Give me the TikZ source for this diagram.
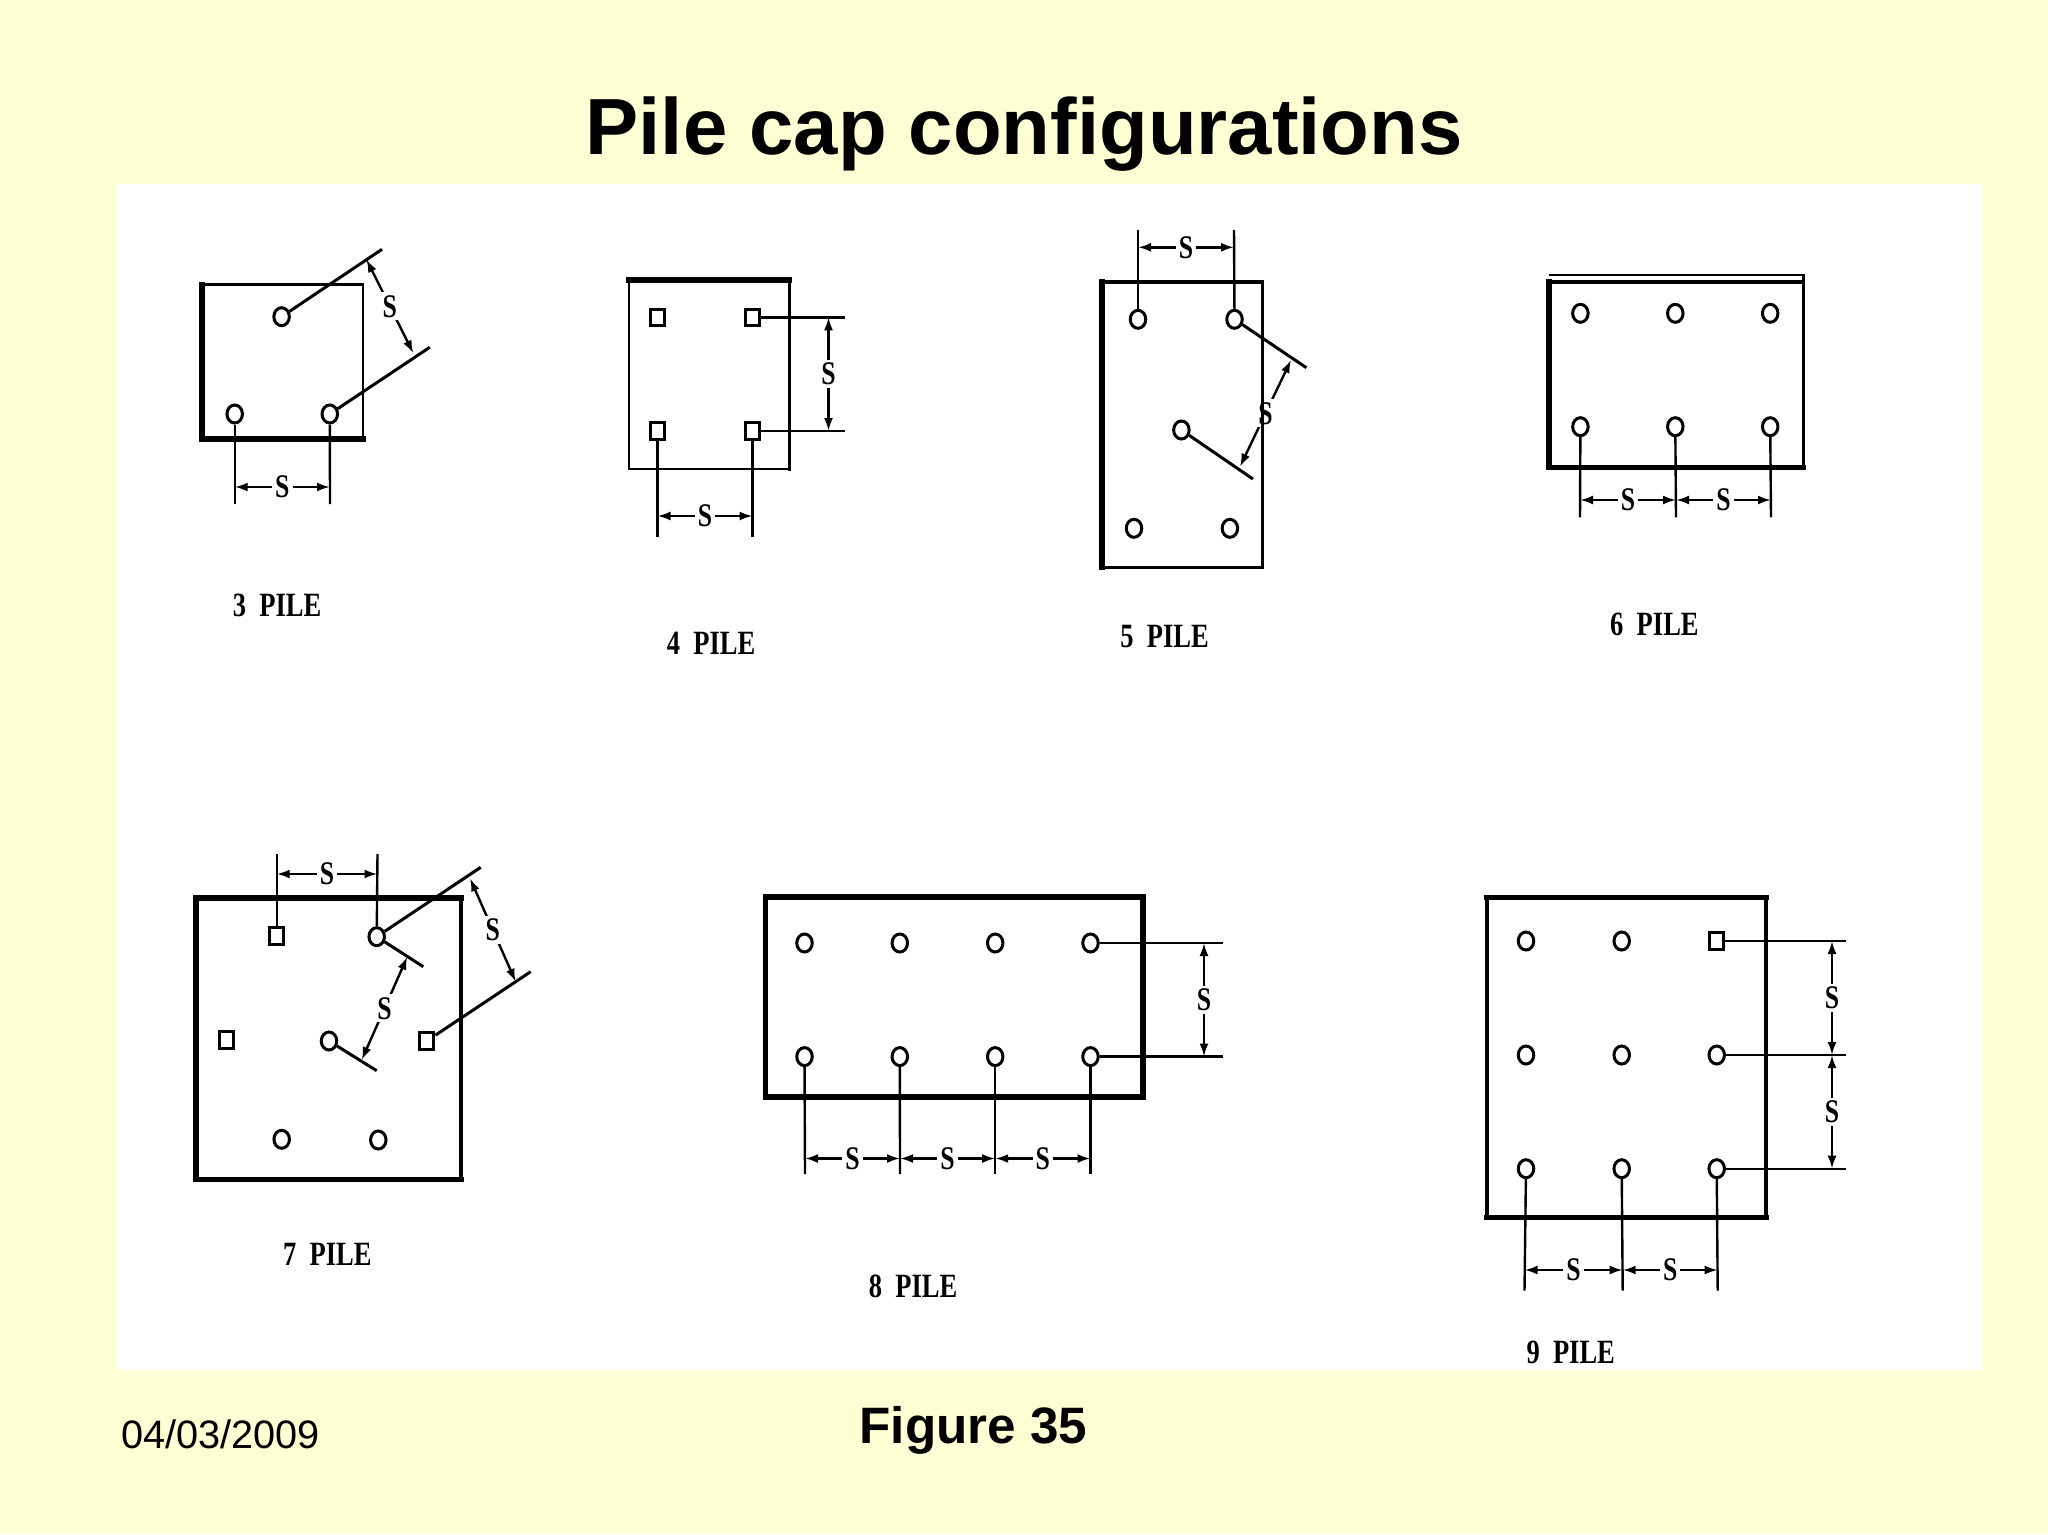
\documentclass[tikz,border=0pt]{standalone}
\usepackage{graphicx}
\usepackage{fontspec}
\setmainfont{Liberation Sans}
\newfontfamily\slabfont{Liberation Serif}
\usetikzlibrary{arrows.meta,shapes.geometric}
\definecolor{slidebg}{HTML}{FFFFD5}
\newcommand{\squeezed}[1]{\scalebox{.78}[1]{#1}}
\tikzset{
  pile/.style={ellipse,draw=black,fill=white,line width=3pt,minimum width=15.5pt,minimum height=18pt,inner sep=0pt},
  pilesq/.style={rectangle,draw=black,fill=white,line width=3pt,minimum width=14.5pt,minimum height=16.5pt,inner sep=0pt},
  extline/.style={line width=2.4pt,line cap=butt},
  diagline/.style={line width=3pt},
  dimline/.style={line width=2.4pt,{Latex[length=13pt,width=9pt]}-{Latex[length=13pt,width=9pt]}},
  smark/.style={font=\slabfont\bfseries\fontsize{33}{34}\selectfont,fill=white,inner sep=3pt},
  plab/.style={font=\slabfont\bfseries\fontsize{34}{36}\selectfont,inner sep=0pt},
  thinedge/.style={line width=2.6pt,line cap=rect},
  midedge/.style={line width=3.6pt,line cap=rect},
  thickedge/.style={line width=5.6pt,line cap=rect},
}
\begin{document}
\begin{tikzpicture}[x=1pt,y=-1pt]
\useasboundingbox (0,0) rectangle (2048,1534);
\fill[slidebg] (0,0) rectangle (2048,1534);
\fill[white] (117.5,184) rectangle (1982,1370);
\node[font=\bfseries\fontsize{79.7}{90}\selectfont,inner sep=0pt] (title) at (1024,134.5) {Pile cap configurations};
\node[font=\bfseries\fontsize{51.2}{60}\selectfont,inner sep=0pt] (figno) at (973.5,1430) {Figure 35};
\node[font=\fontsize{39.7}{45}\selectfont,inner sep=0pt] (date) at (220.5,1434) {04/03/2009};

% ---------- 3 PILE
\node[pile] (t1) at (281.6,316.7) {};
\node[pile] (t2) at (234.7,414) {};
\node[pile] (t3) at (329.8,414) {};
\coordinate (t2e) at (234.7,504); \coordinate (t3e) at (330,504);
\coordinate (t1d) at (382,249.3); \coordinate (t3d) at (429.8,347.3);
\coordinate (thA) at (234.7,487); \coordinate (thB) at (330,487);
\coordinate (tdA) at (366.4,259.3); \coordinate (tdB) at (413.3,353.3);
\draw[extline] (t2) -- (t2e);
\draw[extline] (t3) -- (t3e);
\draw[diagline] (t1) -- (t1d);
\draw[diagline] (t3) -- (t3d);
\draw[dimline] (thA) -- node[smark] (ts1) {\squeezed{S}} (thB);
\draw[dimline] (tdA) -- node[smark] (ts2) {\squeezed{S}} (tdB);
\draw[thinedge] (202,284.5) -- (363,284.5) -- (363,439);
\draw[thickedge] (202,284.5) -- (202,439) -- (363,439);
\node[plab] (tl) at (277,605) {\squeezed{3\enspace PILE}};

% ---------- 4 PILE
\node[pilesq] (f1) at (657.5,317.3) {};
\node[pilesq] (f2) at (752.6,317.3) {};
\node[pilesq] (f3) at (657.5,431) {};
\node[pilesq] (f4) at (752.6,431) {};
\coordinate (f2e) at (845,317.3); \coordinate (f4e) at (845,431);
\coordinate (f3e) at (657.5,536.7); \coordinate (f4f) at (752.6,536.7);
\coordinate (fvA) at (828.5,317.3); \coordinate (fvB) at (828.5,431);
\coordinate (fhA) at (657.5,516); \coordinate (fhB) at (752.6,516);
\draw[extline] (f2) -- (f2e);
\draw[extline] (f4) -- (f4e);
\draw[extline] (f3) -- (f3e);
\draw[extline] (f4) -- (f4f);
\draw[dimline] (fvA) -- node[smark] (fs1) {\squeezed{S}} (fvB);
\draw[dimline] (fhA) -- node[smark] (fs2) {\squeezed{S}} (fhB);
\draw[thinedge] (629,280) -- (629,469) -- (789.6,469);
\draw[midedge] (789.6,469) -- (789.6,280);
\draw[thickedge] (629,280) -- (789.6,280);
\node[plab] (fl) at (711,643) {\squeezed{4\enspace PILE}};

% ---------- 5 PILE
\node[pile] (v1) at (1138,319.3) {};
\node[pile] (v2) at (1234.5,319.3) {};
\node[pile] (v3) at (1181.4,430) {};
\node[pile] (v4) at (1134,528.3) {};
\node[pile] (v5) at (1229.9,528.3) {};
\coordinate (v1e) at (1138,230); \coordinate (v2e) at (1234,230);
\coordinate (v2d) at (1306.4,367.7); \coordinate (v3d) at (1252.9,479);
\coordinate (vhA) at (1138,247.3); \coordinate (vhB) at (1234,247.3);
\coordinate (vdA) at (1291,360); \coordinate (vdB) at (1240,466.7);
\draw[extline] (v1) -- (v1e);
\draw[extline] (v2) -- (v2e);
\draw[diagline] (v2) -- (v2d);
\draw[diagline] (v3) -- (v3d);
\draw[dimline] (vhA) -- node[smark] (vs1) {\squeezed{S}} (vhB);
\draw[dimline] (vdA) -- node[smark] (vs2) {\squeezed{S}} (vdB);
\draw[thinedge] (1101.8,567.3) -- (1262.6,567.3) -- (1262.6,281.7);
\draw[midedge] (1101.8,281.7) -- (1262.6,281.7);
\draw[thickedge] (1101.8,281.7) -- (1101.8,567.3);
\node[plab] (vl) at (1164.6,636.7) {\squeezed{5\enspace PILE}};

% ---------- 6 PILE
\node[pile] (s1) at (1580.4,313.3) {};
\node[pile] (s2) at (1675.3,313.3) {};
\node[pile] (s3) at (1770.2,313.3) {};
\node[pile] (s4) at (1580.4,426.7) {};
\node[pile] (s5) at (1675.3,426.7) {};
\node[pile] (s6) at (1770.2,426.7) {};
\coordinate (s4e) at (1580,517.3); \coordinate (s5e) at (1676,517.3); \coordinate (s6e) at (1771,517.3);
\coordinate (shA) at (1580,500); \coordinate (shB) at (1676,500); \coordinate (shC) at (1771,500);
\draw[extline] (s4) -- (s4e);
\draw[extline] (s5) -- (s5e);
\draw[extline] (s6) -- (s6e);
\draw[dimline] (shA) -- node[smark] (ss1) {\squeezed{S}} (shB);
\draw[dimline] (shB) -- node[smark] (ss2) {\squeezed{S}} (shC);
\draw[thinedge] (1550,275) -- (1803.4,275) -- (1803.4,467.3);
\draw[midedge] (1548.8,281.7) -- (1803.4,281.7);
\draw[thickedge] (1548.8,281.7) -- (1548.8,467.3) -- (1803.4,467.3);
\node[plab] (sl) at (1654.4,624) {\squeezed{6\enspace PILE}};

% ---------- 7 PILE
\node[pilesq] (h1) at (276.7,936) {};
\node[pile] (h2) at (376.7,936.7) {};
\node[pilesq] (h3) at (226.7,1040) {};
\node[pile] (h4) at (329,1041) {};
\node[pilesq] (h5) at (426.7,1041) {};
\node[pile] (h6) at (281.7,1139.3) {};
\node[pile] (h7) at (378.3,1140) {};
\coordinate (h1e) at (276.7,854); \coordinate (h2e) at (377.5,854);
\coordinate (h2d) at (480.7,867.3); \coordinate (h5d) at (530.7,971.7);
\coordinate (h2i) at (423.3,966.7); \coordinate (h4i) at (376.7,1070.7);
\coordinate (hhA) at (276.7,874); \coordinate (hhB) at (377.5,874);
\coordinate (hdA) at (470,878.3); \coordinate (hdB) at (515.7,981.7);
\coordinate (hiA) at (407.3,956.7); \coordinate (hiB) at (361.7,1060);
\draw[extline] (h1) -- (h1e);
\draw[extline] (h2) -- (h2e);
\draw[diagline] (h2) -- (h2d);
\draw[diagline] (h5) -- (h5d);
\draw[diagline] (h2) -- (h2i);
\draw[diagline] (h4) -- (h4i);
\draw[dimline] (hhA) -- node[smark] (hs1) {\squeezed{S}} (hhB);
\draw[dimline] (hdA) -- node[smark] (hs2) {\squeezed{S}} (hdB);
\draw[dimline] (hiA) -- node[smark] (hs3) {\squeezed{S}} (hiB);
\draw[midedge] (460.7,897.7) -- (460.7,1179.3);
\draw[thickedge] (460.7,897.7) -- (196,897.7) -- (196,1179.3) -- (460.7,1179.3);
\node[plab] (hl) at (327.3,1254.3) {\squeezed{7\enspace PILE}};

% ---------- 8 PILE
\node[pile] (e1) at (804.5,943) {};
\node[pile] (e2) at (899.8,943) {};
\node[pile] (e3) at (995.2,943) {};
\node[pile] (e4) at (1090.5,943) {};
\node[pile] (e5) at (804.5,1056.6) {};
\node[pile] (e6) at (899.8,1056.6) {};
\node[pile] (e7) at (995.2,1056.6) {};
\node[pile] (e8) at (1090.5,1056.6) {};
\coordinate (e4r) at (1222.5,943); \coordinate (e8r) at (1222.5,1056.6);
\coordinate (e5b) at (805,1174); \coordinate (e6b) at (900,1174); \coordinate (e7b) at (995.2,1174); \coordinate (e8b) at (1090.5,1174);
\coordinate (evA) at (1204,943); \coordinate (evB) at (1204,1056.6);
\coordinate (ehA) at (805,1158.5); \coordinate (ehB) at (900,1158.5); \coordinate (ehC) at (995.2,1158.5); \coordinate (ehD) at (1090.5,1158.5);
\draw[extline] (e4) -- (e4r);
\draw[extline] (e8) -- (e8r);
\draw[extline] (e5) -- (e5b);
\draw[extline] (e6) -- (e6b);
\draw[extline] (e7) -- (e7b);
\draw[extline] (e8) -- (e8b);
\draw[dimline] (evA) -- node[smark] (es1) {\squeezed{S}} (evB);
\draw[dimline] (ehA) -- node[smark] (es2) {\squeezed{S}} (ehB);
\draw[dimline] (ehB) -- node[smark] (es3) {\squeezed{S}} (ehC);
\draw[dimline] (ehC) -- node[smark] (es4) {\squeezed{S}} (ehD);
\draw[thickedge] (765.3,897) -- (1142.8,897) -- (1142.8,1097) -- (765.3,1097) -- cycle;
\node[plab] (el) at (913,1286.4) {\squeezed{8\enspace PILE}};

% ---------- 9 PILE
\node[pile] (n1) at (1526,941) {};
\node[pile] (n2) at (1621.7,941) {};
\node[pilesq] (n3) at (1716.7,941) {};
\node[pile] (n4) at (1526,1055) {};
\node[pile] (n5) at (1621.7,1055) {};
\node[pile] (n6) at (1716.7,1055) {};
\node[pile] (n7) at (1526,1168.7) {};
\node[pile] (n8) at (1621.7,1168.7) {};
\node[pile] (n9) at (1716.7,1168.7) {};
\coordinate (n3r) at (1846,941); \coordinate (n6r) at (1846,1055); \coordinate (n9r) at (1846,1168.7);
\coordinate (n7b) at (1524.5,1290.7); \coordinate (n8b) at (1622.7,1290.7); \coordinate (n9b) at (1717.7,1290.7);
\coordinate (nvA) at (1832,941); \coordinate (nvB) at (1832,1055); \coordinate (nvC) at (1832,1168.7);
\coordinate (nhA) at (1524.5,1270); \coordinate (nhB) at (1622.7,1270); \coordinate (nhC) at (1717.7,1270);
\draw[extline] (n3) -- (n3r);
\draw[extline] (n6) -- (n6r);
\draw[extline] (n9) -- (n9r);
\draw[extline] (n7) -- (n7b);
\draw[extline] (n8) -- (n8b);
\draw[extline] (n9) -- (n9b);
\draw[dimline] (nvA) -- node[smark] (ns1) {\squeezed{S}} (nvB);
\draw[dimline] (nvB) -- node[smark] (ns2) {\squeezed{S}} (nvC);
\draw[dimline] (nhA) -- node[smark] (ns3) {\squeezed{S}} (nhB);
\draw[dimline] (nhB) -- node[smark] (ns4) {\squeezed{S}} (nhC);
\draw[midedge] (1486.7,897.3) -- (1486.7,1217.3);
\draw[midedge] (1765.7,897.3) -- (1765.7,1217.3);
\draw[thickedge] (1486.7,897.3) -- (1765.7,897.3);
\draw[thickedge] (1486.7,1217.3) -- (1765.7,1217.3);
\node[plab] (nl) at (1570.7,1352.3) {\squeezed{9\enspace PILE}};
\end{tikzpicture}
\end{document}
